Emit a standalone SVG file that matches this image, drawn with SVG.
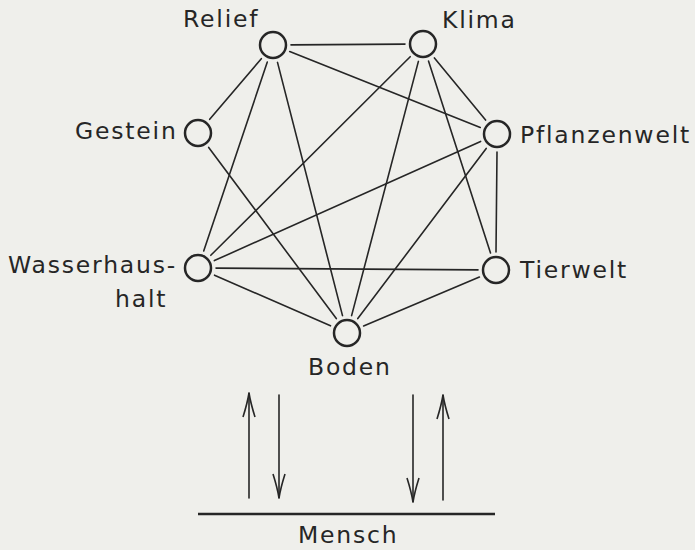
<svg xmlns="http://www.w3.org/2000/svg" width="695" height="550" viewBox="0 0 695 550">
  <style>
    .lbl { font-family: "DejaVu Sans", "Liberation Sans", sans-serif; font-size: 23.5px; letter-spacing: 1.8px; fill: #262626; }
    .node circle { fill: none; stroke: #262626; stroke-width: 2.5; }
    .edge { stroke: #262626; stroke-width: 1.6; fill: none; stroke-linecap: round; }
  </style>
  <defs>
    <marker id="arr" markerUnits="userSpaceOnUse" viewBox="-1 -8 26 16" refX="24" refY="0" markerWidth="26" markerHeight="16" orient="auto">
      <path d="M0,-6 Q14,-1.6 24,0 Q14,1.6 0,6" fill="none" stroke="#262626" stroke-width="1.6"/>
    </marker>
  </defs>
  <rect width="695" height="550" fill="#efefeb"/>

  <g id="connectors" class="edge">
    <line x1="291" y1="44.9" x2="405" y2="44.1"/>
    <line x1="261.3" y1="58.7" x2="209.7" y2="119.3"/>
    <line x1="289.7" y1="51.6" x2="480.3" y2="127.4"/>
    <line x1="267.3" y1="62.1" x2="203.7" y2="250.9"/>
    <line x1="277.5" y1="62.4" x2="342.5" y2="315.6"/>
    <line x1="410.2" y1="56.7" x2="210.8" y2="255.3"/>
    <line x1="418.4" y1="61.4" x2="351.6" y2="315.6"/>
    <line x1="428.5" y1="61.1" x2="490.5" y2="252.9"/>
    <line x1="434.4" y1="57.9" x2="485.6" y2="120.1"/>
    <line x1="208.7" y1="147.4" x2="336.3" y2="318.6"/>
    <line x1="480.6" y1="141.4" x2="214.4" y2="260.6"/>
    <line x1="486.2" y1="148.4" x2="357.8" y2="318.6"/>
    <line x1="497" y1="152" x2="496" y2="252"/>
    <line x1="216" y1="268.1" x2="478" y2="269.9"/>
    <line x1="214.5" y1="275.2" x2="330.5" y2="325.8"/>
    <line x1="479.4" y1="277" x2="363.6" y2="326"/>
    <line x1="249" y1="498" x2="249" y2="393" marker-end="url(#arr)"/>
    <line x1="279" y1="395" x2="279" y2="498" marker-end="url(#arr)"/>
    <line x1="413" y1="395" x2="413" y2="502" marker-end="url(#arr)"/>
    <line x1="443" y1="500" x2="443" y2="395" marker-end="url(#arr)"/>
  </g>

  <g id="relief" class="node"><circle cx="273" cy="45" r="13"/><text class="lbl" x="183" y="27">Relief</text></g>
  <g id="klima" class="node"><circle cx="423" cy="44" r="13"/><text class="lbl" x="442" y="28">Klima</text></g>
  <g id="gestein" class="node"><circle cx="198" cy="133" r="13"/><text class="lbl" x="75" y="139">Gestein</text></g>
  <g id="pflanzenwelt" class="node"><circle cx="497" cy="134" r="13"/><text class="lbl" x="520" y="143">Pflanzenwelt</text></g>
  <g id="wasserhaushalt" class="node"><circle cx="198" cy="268" r="13"/><text class="lbl" x="8" y="273">Wasserhaus-</text><text class="lbl" x="115" y="307">halt</text></g>
  <g id="tierwelt" class="node"><circle cx="496" cy="270" r="13"/><text class="lbl" x="520" y="278">Tierwelt</text></g>
  <g id="boden" class="node"><circle cx="347" cy="333" r="13"/><text class="lbl" x="308" y="375">Boden</text></g>
  <g id="mensch" class="node"><line x1="198" y1="514" x2="495" y2="514" stroke="#262626" stroke-width="2.5"/><text class="lbl" x="298" y="543">Mensch</text></g>
</svg>
